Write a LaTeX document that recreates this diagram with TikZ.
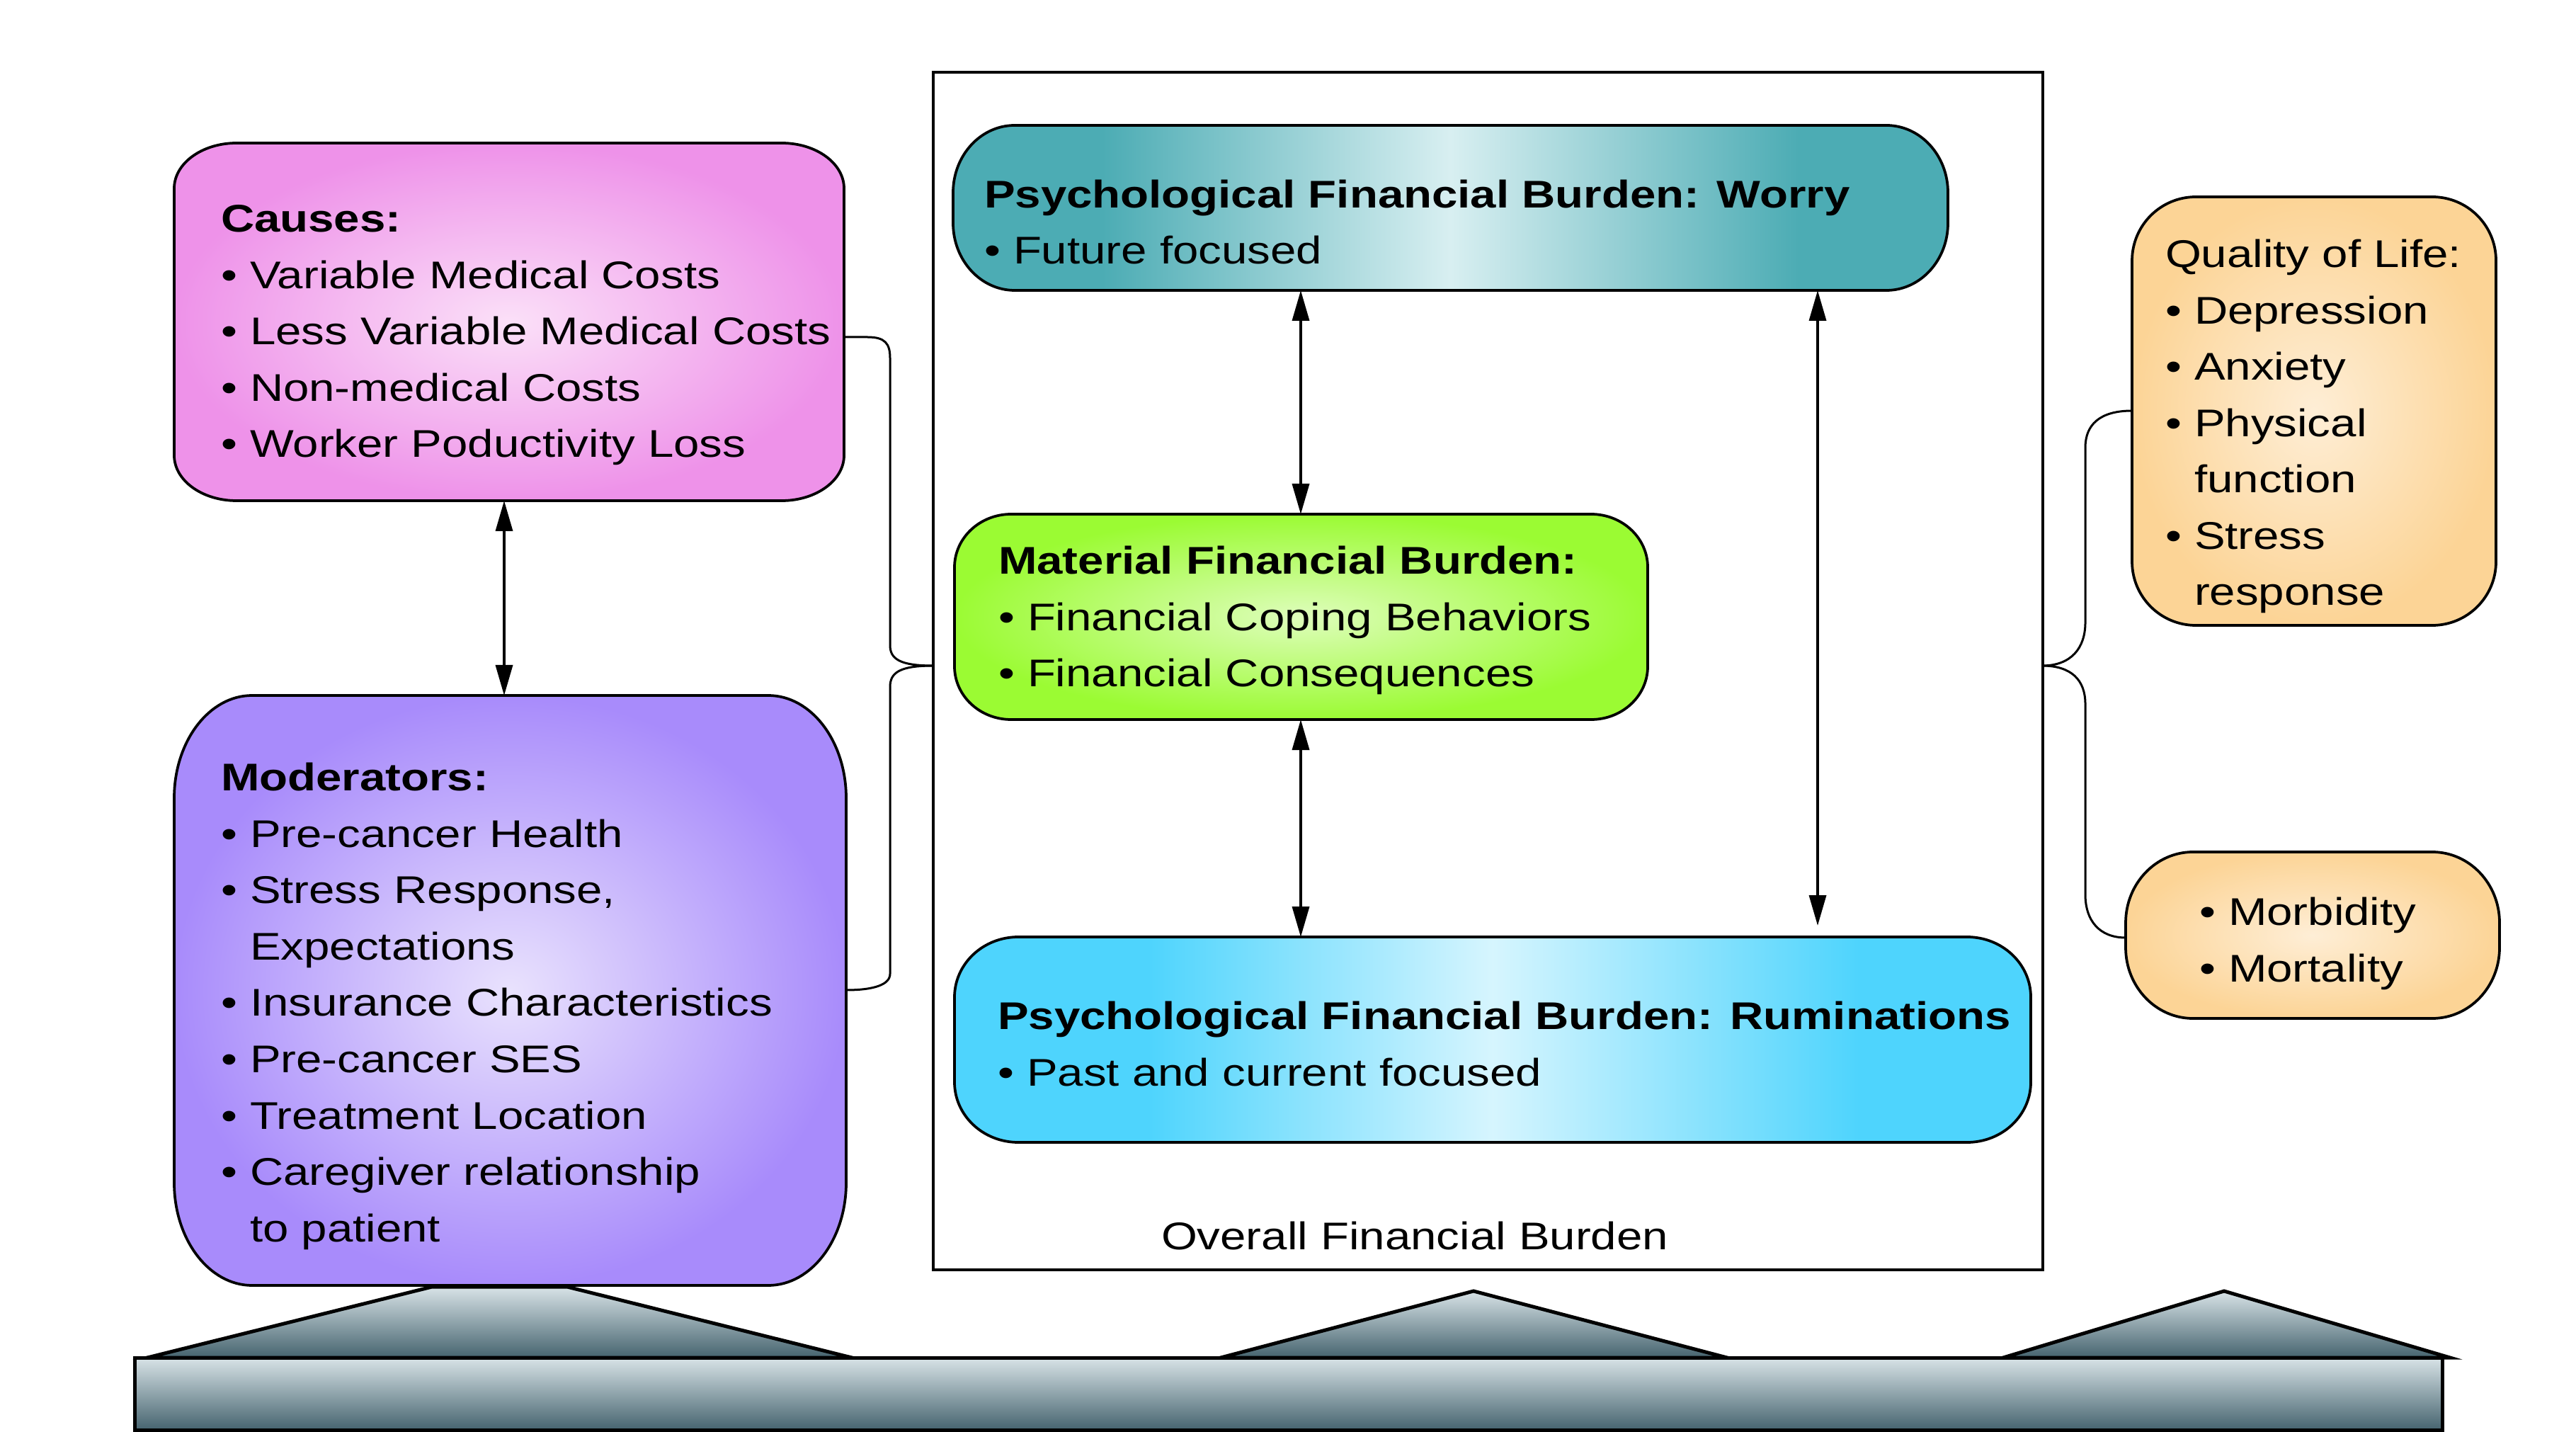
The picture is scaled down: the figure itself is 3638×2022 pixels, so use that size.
\documentclass[tikz,border=0pt]{standalone}
\usepackage{fontspec}
\setmainfont{Liberation Sans}[FakeStretch=1.2]
\usetikzlibrary{arrows.meta,calc}
\definecolor{pinkD}{HTML}{EE92E9}
\definecolor{pinkL}{HTML}{FBE0F8}
\definecolor{purpD}{HTML}{A88BFB}
\definecolor{purpL}{HTML}{E9E2FD}
\definecolor{tealD}{HTML}{4CACB4}
\definecolor{tealL}{HTML}{D8EFF1}
\definecolor{greenD}{HTML}{9BFB33}
\definecolor{greenL}{HTML}{DEFDBB}
\definecolor{cyanD}{HTML}{4ED4FD}
\definecolor{cyanL}{HTML}{D6F5FE}
\definecolor{orngD}{HTML}{FCD496}
\definecolor{orngL}{HTML}{FEEED6}
\definecolor{barL}{HTML}{D8E3E7}
\definecolor{barD}{HTML}{46646F}
\pgfdeclarehorizontalshading{worryshade}{100bp}{color(0bp)=(tealD); color(32.5bp)=(tealD); color(50bp)=(tealL); color(67.5bp)=(tealD); color(100bp)=(tealD)}
\pgfdeclarehorizontalshading{rumshade}{100bp}{color(0bp)=(cyanD); color(34bp)=(cyanD); color(50bp)=(cyanL); color(67bp)=(cyanD); color(100bp)=(cyanD)}
% elliptical-corner box: name, x1, y1, x2, y2, rx, ry, style
\newcommand\ebox[8]{%
  \path[#8] (#2+#6,#3) -- (#4-#6,#3) arc[start angle=-90,end angle=0,x radius=#6,y radius=#7]
    -- (#4,#5-#7) arc[start angle=0,end angle=90,x radius=#6,y radius=#7]
    -- (#2+#6,#5) arc[start angle=90,end angle=180,x radius=#6,y radius=#7]
    -- (#2,#3+#7) arc[start angle=180,end angle=270,x radius=#6,y radius=#7] -- cycle;
  \node[inner sep=0pt,outer sep=0pt,minimum width={(#4-#2)*0.2pt},minimum height={(#5-#3)*0.2pt}] (#1) at ({(#2+#4)/2},{(#3+#5)/2}) {};
}
\tikzset{
  boxline/.style={draw=black,line width=0.75pt},
  txt/.style={anchor=base west,align=left,inner sep=0pt,outer sep=0pt,font=\fontsize{10.9}{15.9}\selectfont},
  biarrow/.style={{Triangle[length=8.6pt,width=4.8pt]}-{Triangle[length=8.6pt,width=4.8pt]},line width=0.7pt},
  brace/.style={draw=black,line width=0.6pt},
  base/.style={draw=black,line width=1pt,line join=miter,top color=barL,bottom color=barD},
}
\begin{document}
\begin{tikzpicture}[x=0.2pt,y=-0.2pt]
\useasboundingbox (0,0) rectangle (3638,2022);

% outer frame
\node[draw=black,line width=0.8pt,inner sep=0pt,outer sep=0pt,minimum width={1567*0.2pt},minimum height={1691*0.2pt}] (frame) at (2101.5,947.5) {};
\node[txt] (overallT) at (1640,1764) {Overall Financial Burden};

% boxes
\ebox{causes}{246}{202}{1192}{707}{88}{64}{boxline,inner color=pinkL,outer color=pinkD}
\ebox{moder}{246}{982}{1195}{1815}{110}{145}{boxline,inner color=purpL,outer color=purpD}
\ebox{worry}{1346}{177}{2751}{410}{87}{95}{boxline,shade,shading=worryshade}
\ebox{mater}{1348}{726}{2327}{1016}{80}{75}{boxline,inner color=greenL,outer color=greenD}
\ebox{rumin}{1348}{1323}{2868}{1613}{90}{85}{boxline,shade,shading=rumshade}
\ebox{qol}{3011}{278}{3525}{883}{90}{90}{boxline,inner color=orngL,outer color=orngD}
\ebox{morb}{3002}{1203}{3530}{1438}{95}{100}{boxline,inner color=orngL,outer color=orngD}

% texts (anchor = baseline of the last line)
\node[txt] (causesT) at (312,646) {\textbf{Causes:}\\
  •~Variable Medical Costs\\
  •~Less Variable Medical Costs\\
  •~Non-medical Costs\\
  •~Worker Poductivity Loss};
\node[txt] (moderT) at (312,1753) {\textbf{Moderators:}\\
  •~Pre-cancer Health\\
  •~Stress Response,\\
  \hphantom{•~}Expectations\\
  •~Insurance Characteristics\\
  •~Pre-cancer SES\\
  •~Treatment Location\\
  •~Caregiver relationship\\
  \hphantom{•~}to patient};
\node[txt] (worryT) at (1390,373) {\textbf{Psychological Financial Burden: Worry}\\
  •~Future focused};
\node[txt] (materT) at (1410,970) {\textbf{Material Financial Burden:}\\
  •~Financial Coping Behaviors\\
  •~Financial Consequences};
\node[txt] (ruminT) at (1409,1533) {\textbf{Psychological Financial Burden: Ruminations}\\
  •~Past and current focused};
\node[txt] (qolT) at (3058,855) {Quality of Life:\\
  •~Depression\\
  •~Anxiety\\
  •~Physical\\
  \hphantom{•~}function\\
  •~Stress\\
  \hphantom{•~}response};
\node[txt] (morbT) at (3106,1386) {•~Morbidity\\
  •~Mortality};

% arrows
\coordinate (ax1) at (712,0);
\coordinate (ax2) at (1837,0);
\coordinate (ax3) at (2567,0);
\draw[biarrow] (causes.south -| ax1) -- (moder.north -| ax1);
\draw[biarrow] (worry.south -| ax2) -- (mater.north -| ax2);
\draw[biarrow] (mater.south -| ax2) -- (rumin.north -| ax2);
\draw[biarrow,shorten >=3.2pt] (worry.south -| ax3) -- (rumin.north -| ax3);

% braces
\coordinate (lbTop) at (1193,476);
\coordinate (lbMid) at (1318,940);
\coordinate (lbBot) at (1195,1398);
\coordinate (rbMid) at (2884,940);
\coordinate (rbTop) at (3011,580);
\coordinate (rbBot) at (3002,1324);
\draw[brace] (lbTop) -- (1225,476) .. controls (1250,476) and (1257,485) .. (1257,506)
  -- (1257,911) .. controls (1257,930) and (1270,940) .. (lbMid);
\draw[brace] (lbMid) .. controls (1270,940) and (1257,950) .. (1257,970)
  -- (1257,1375) .. controls (1257,1390) and (1235,1398) .. (lbBot);
\draw[brace] (rbMid) .. controls (2925,940) and (2945,915) .. (2945,879)
  -- (2945,632) .. controls (2945,600) and (2965,580) .. (rbTop);
\draw[brace] (rbMid) .. controls (2925,940) and (2945,960) .. (2945,994)
  -- (2945,1263) .. controls (2945,1300) and (2965,1324) .. (rbBot);

% base
\path[base] (208,1917) -- (610,1817) -- (801,1817) -- (1203,1917) -- cycle;
\path[base] (1724,1917) -- (2081,1823) -- (2439,1917) -- cycle;
\path[base] (2829,1917) -- (3141,1823) -- (3460,1917) -- cycle;
\path[base] (190,1917) rectangle (3449,2019);
\end{tikzpicture}
\end{document}
